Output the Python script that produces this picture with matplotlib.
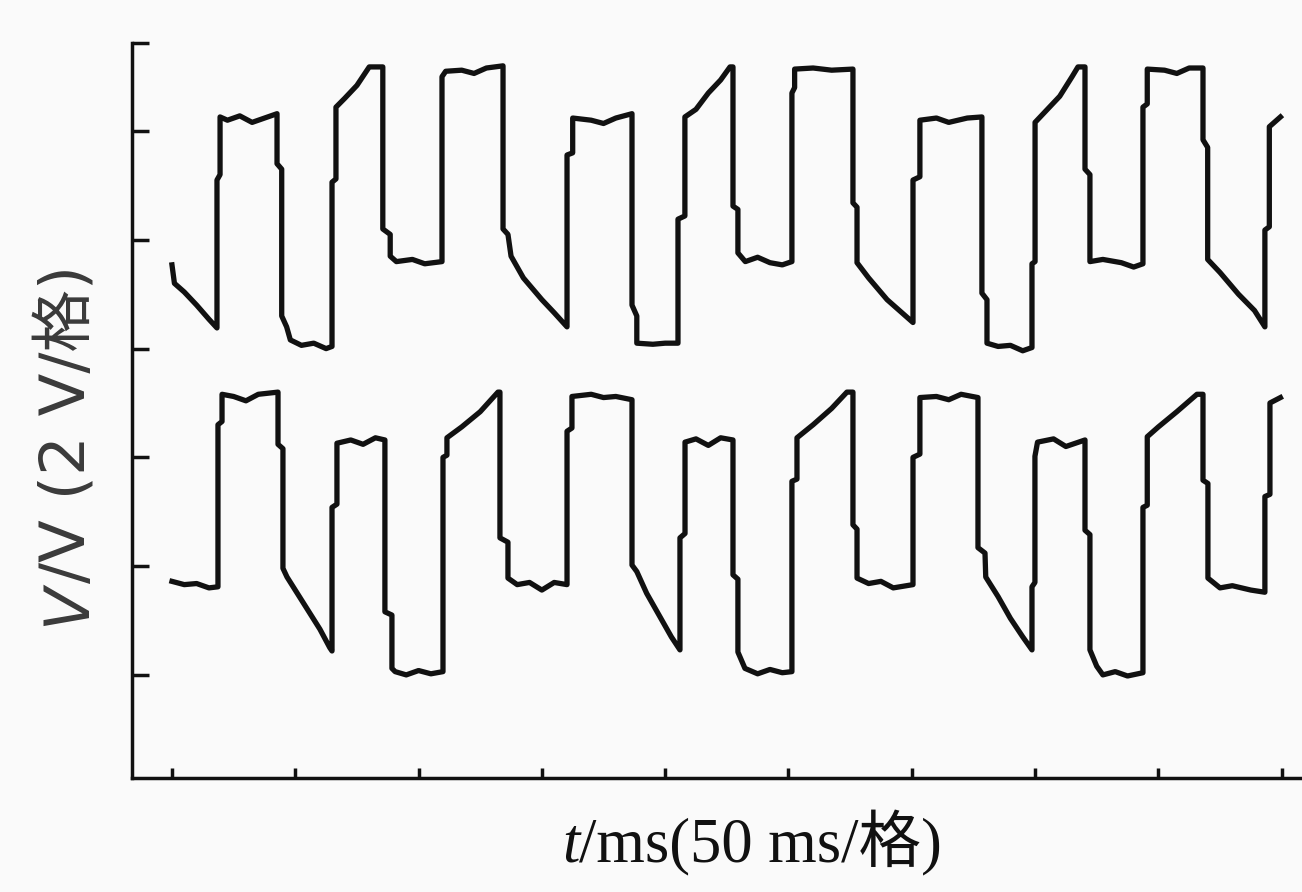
import matplotlib
matplotlib.use('Agg')
import matplotlib.pyplot as plt

# time in divisions (50 ms/div), voltage in divisions (2 V/div)
t_upper = [0.00, 0.02, 0.10, 0.20, 0.30, 0.365, 0.365, 0.39, 0.39, 0.45, 0.55, 0.65, 0.75, 0.852,
           0.852, 0.89, 0.89, 0.93, 0.96, 1.05, 1.15, 1.25, 1.298,
           1.298, 1.33, 1.33, 1.40, 1.50, 1.60, 1.71,
           1.71, 1.77, 1.77, 1.82, 1.95, 2.05, 2.19,
           2.19, 2.22, 2.35, 2.45, 2.55, 2.685,
           2.685, 2.725, 2.75, 2.85, 3.00, 3.10, 3.204,
           3.204, 3.25, 3.25, 3.40, 3.50, 3.60, 3.731,
           3.731, 3.77, 3.77, 3.90, 4.00, 4.104,
           4.104, 4.16, 4.16, 4.25, 4.35, 4.45, 4.526, 4.55,
           4.55, 4.59, 4.59, 4.65, 4.75, 4.85, 4.95, 5.028,
           5.028, 5.05, 5.05, 5.20, 5.35, 5.523,
           5.523, 5.556, 5.556, 5.65, 5.80, 5.90, 6.01,
           6.01, 6.066, 6.066, 6.20, 6.30, 6.45, 6.569,
           6.569, 6.61, 6.61, 6.70, 6.80, 6.90, 6.975,
           6.975, 7.00, 7.00, 7.10, 7.20, 7.30, 7.348, 7.405,
           7.405, 7.445, 7.445, 7.55, 7.70, 7.80, 7.875,
           7.875, 7.91, 7.91, 8.05, 8.15, 8.25, 8.362,
           8.362, 8.40, 8.40, 8.50, 8.65, 8.78, 8.864,
           8.864, 8.90, 8.90, 8.96, 8.99]
v_upper = [3.77, 3.60, 3.52, 3.40, 3.27, 3.19, 4.55, 4.60, 5.13, 5.10, 5.14, 5.08, 5.12, 5.16,
           4.70, 4.65, 3.30, 3.20, 3.08, 3.03, 3.05, 3.00, 3.02,
           4.53, 4.56, 5.22, 5.30, 5.42, 5.59, 5.59,
           4.10, 4.05, 3.85, 3.80, 3.82, 3.78, 3.80,
           5.50, 5.55, 5.56, 5.53, 5.58, 5.60,
           4.10, 4.05, 3.85, 3.65, 3.45, 3.33, 3.20,
           4.78, 4.80, 5.12, 5.10, 5.07, 5.12, 5.16,
           3.40, 3.30, 3.05, 3.04, 3.05, 3.05,
           4.19, 4.22, 5.13, 5.20, 5.35, 5.47, 5.59, 5.59,
           4.31, 4.28, 3.88, 3.80, 3.84, 3.79, 3.77, 3.80,
           5.35, 5.40, 5.57, 5.58, 5.56, 5.57,
           4.34, 4.30, 3.79, 3.65, 3.45, 3.35, 3.24,
           4.55, 4.58, 5.10, 5.12, 5.08, 5.12, 5.13,
           3.51, 3.45, 3.05, 3.02, 3.03, 2.98, 3.01,
           3.78, 3.80, 5.08, 5.20, 5.32, 5.50, 5.59, 5.59,
           4.65, 4.60, 3.80, 3.82, 3.79, 3.75, 3.78,
           5.22, 5.25, 5.57, 5.56, 5.53, 5.58, 5.58,
           4.92, 4.85, 3.82, 3.70, 3.50, 3.35, 3.20,
           4.09, 4.12, 5.04, 5.10, 5.13]

t_lower = [0.00, 0.10, 0.20, 0.30, 0.373,
           0.373, 0.406, 0.406, 0.50, 0.60, 0.70, 0.86,
           0.86, 0.90, 0.90, 0.933, 1.00, 1.10, 1.20, 1.28, 1.298,
           1.298, 1.338, 1.338, 1.45, 1.55, 1.65, 1.727,
           1.727, 1.784, 1.784, 1.81, 1.90, 2.00, 2.10, 2.198,
           2.198, 2.23, 2.23, 2.35, 2.50, 2.644, 2.66,
           2.66, 2.725, 2.725, 2.80, 2.90, 3.00, 3.10, 3.204,
           3.204, 3.244, 3.244, 3.40, 3.50, 3.60, 3.731,
           3.731, 3.77, 3.85, 3.95, 4.05, 4.12,
           4.12, 4.161, 4.161, 4.25, 4.35, 4.45, 4.55,
           4.55, 4.59, 4.59, 4.647, 4.75, 4.85, 4.95, 5.028,
           5.028, 5.069, 5.069, 5.20, 5.35, 5.474, 5.523,
           5.523, 5.556, 5.556, 5.65, 5.75, 5.85, 6.01,
           6.01, 6.066, 6.066, 6.20, 6.30, 6.40, 6.537,
           6.537, 6.594, 6.60, 6.70, 6.80, 6.90, 6.975,
           6.975, 6.999, 6.999, 7.02, 7.15, 7.25, 7.405,
           7.405, 7.445, 7.445, 7.50, 7.55, 7.65, 7.75, 7.875,
           7.875, 7.91, 7.91, 8.00, 8.15, 8.313, 8.362,
           8.362, 8.402, 8.402, 8.50, 8.60, 8.75, 8.864,
           8.864, 8.905, 8.905, 8.99]
v_lower = [0.86, 0.83, 0.84, 0.80, 0.81,
           2.30, 2.33, 2.58, 2.56, 2.52, 2.58, 2.60,
           2.12, 2.08, 0.98, 0.90, 0.78, 0.60, 0.42, 0.25, 0.22,
           1.54, 1.57, 2.13, 2.16, 2.12, 2.18, 2.16,
           0.58, 0.55, 0.06, 0.03, 0.00, 0.04, 0.01, 0.03,
           2.00, 2.02, 2.18, 2.28, 2.42, 2.60, 2.60,
           1.26, 1.22, 0.89, 0.83, 0.85, 0.78, 0.85, 0.83,
           2.24, 2.27, 2.56, 2.58, 2.55, 2.56, 2.53,
           1.01, 0.95, 0.75, 0.55, 0.35, 0.23,
           1.26, 1.30, 2.14, 2.17, 2.11, 2.18, 2.16,
           0.92, 0.88, 0.21, 0.06, 0.01, 0.05, 0.02, 0.03,
           1.78, 1.80, 2.18, 2.30, 2.45, 2.60, 2.60,
           1.38, 1.34, 0.89, 0.84, 0.86, 0.80, 0.83,
           2.00, 2.03, 2.55, 2.56, 2.53, 2.58, 2.55,
           1.17, 1.12, 0.90, 0.72, 0.52, 0.35, 0.23,
           0.81, 0.85, 2.01, 2.14, 2.17, 2.10, 2.16,
           1.33, 1.29, 0.23, 0.08, 0.00, 0.03, -0.01, 0.02,
           1.54, 1.56, 2.19, 2.28, 2.42, 2.58, 2.58,
           1.79, 1.76, 0.89, 0.80, 0.82, 0.78, 0.76,
           1.64, 1.66, 2.50, 2.55]

x_ticks = list(range(10))
y_ticks = [0, 1, 2, 3, 4, 5, 5.81]

serif = ['Liberation Serif', 'Noto Sans CJK SC']
sans = ['DejaVu Sans', 'Noto Sans CJK SC']
ink = '#111111'

fig = plt.figure(figsize=(13.02, 8.92), dpi=100, facecolor='#fafafa')
ax = fig.add_axes([0.1014, 0.1278, 0.8986, 0.824])
ax.set_facecolor('#fafafa')

ax.plot(t_upper, v_upper, color=ink, linewidth=3.8, solid_joinstyle='round')
ax.plot(t_lower, v_lower, color=ink, linewidth=3.8, solid_joinstyle='round')

ax.set_xlim(-0.324, 9.165)
ax.set_ylim(-0.948, 5.81)
ax.set_xticks(x_ticks)
ax.set_yticks(y_ticks)
ax.set_xticklabels([])
ax.set_yticklabels([])
ax.tick_params(axis='x', direction='in', length=7, width=2.5, color=ink)
ax.tick_params(axis='y', direction='in', length=12, width=2.5, color=ink)

for s in ['top', 'right']:
    ax.spines[s].set_visible(False)
for s in ['left', 'bottom']:
    ax.spines[s].set_linewidth(2.5)
    ax.spines[s].set_color(ink)

# x label: italic t followed by the rest
xl1 = fig.text(562 / 1302, 1 - 876 / 892, 't', fontsize=45, style='italic',
               family=serif, color=ink, ha='left', va='bottom')
ax.annotate('/ms(50 ms/格)', xy=(1, 0), xycoords=xl1, fontsize=45,
            family=serif, color=ink, ha='left', va='bottom', annotation_clip=False)

# y label: italic V followed by the rest, rotated
yl1 = fig.text(38 / 1302, 1 - 626 / 892, 'V', fontsize=45, style='italic',
               family=sans, color='#3a3a3a', rotation=90, ha='left', va='bottom')
ax.annotate('/V (2 V/格)', xy=(0, 1), xycoords=yl1, fontsize=45,
            family=sans, color='#3a3a3a', rotation=90, ha='left', va='bottom',
            annotation_clip=False)

fig.savefig('out.png', dpi=100, facecolor=fig.get_facecolor())
